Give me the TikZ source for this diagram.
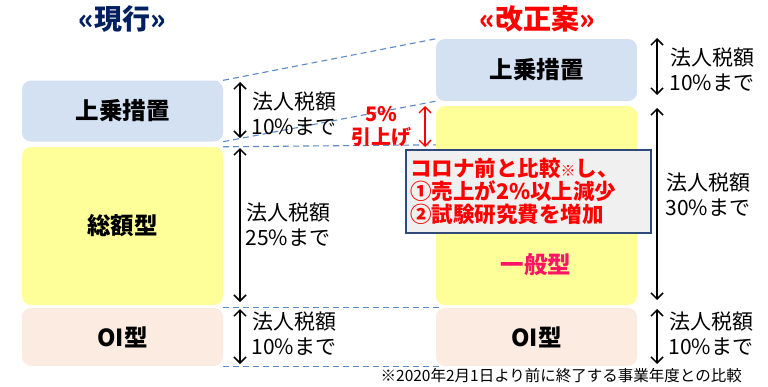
\documentclass[tikz,border=0pt]{standalone}
\usepackage{fontspec}
\setmainfont{Noto Sans CJK JP}
\usetikzlibrary{arrows.meta,calc,backgrounds}
\definecolor{navy}{HTML}{002060}
\definecolor{boxblue}{HTML}{D3E1F3}
\definecolor{boxyellow}{HTML}{FFFF99}
\definecolor{boxpeach}{HTML}{FCEBE1}
\definecolor{dashblue}{HTML}{5B8AC6}
\definecolor{calloutedge}{HTML}{2F4A7A}
\definecolor{calloutfill}{HTML}{F0F0F0}
\definecolor{magred}{HTML}{FF1466}
\tikzset{
  blk/.style={rounded corners=9pt, minimum width=201pt, inner sep=0pt, font=\fontsize{23.5}{26}\selectfont\bfseries},
  guide/.style={dashblue, line width=1.1pt, dash pattern=on 6pt off 4pt},
  span/.style={line width=1.5pt, {Straight Barb[length=6pt,width=12pt]}-{Straight Barb[length=6pt,width=12pt]}},
  lbl/.style={align=center, inner sep=0pt, font=\fontsize{21}{25}\selectfont},
  ttl/.style={inner sep=0pt, font=\fontsize{28}{30}\selectfont\bfseries},
}
\begin{document}
\begin{tikzpicture}[x=1pt,y=-1pt]
\useasboundingbox (0,0) rectangle (768,386);

% titles
\node[ttl, text=navy] (t1) at (122,19) {«現行»};
\node[ttl, text=red] (t2) at (537,19) {«改正案»};

% left boxes
\node[blk, fill=boxblue, minimum height=61pt] (lj) at (122.5,111) {上乗措置};
\node[blk, fill=boxyellow, minimum height=158pt] (ls) at (122.5,226) {総額型};
\node[blk, fill=boxpeach, minimum height=58pt] (lo) at (122.5,337) {OI型};

% right boxes
\node[blk, fill=boxblue, minimum height=62pt] (rj) at (536.5,70) {上乗措置};
\node[blk, fill=boxyellow, minimum height=199pt] (rg) at (536.5,205.5) {};
\node[blk, fill=boxpeach, minimum height=58pt] (ro) at (536.5,337) {OI型};
\node[inner sep=0pt, text=magred, font=\fontsize{23.5}{26}\selectfont\bfseries] (gtxt) at (536,265) {一般型};

% guide lines
\begin{scope}[on background layer]
\draw[guide] (lj.north east) -- (rj.north west);
\draw[guide] (lj.south east) -- (rj.south west);
\draw[guide] (ls.north east) -- ($(rg.north west)+(0,39)$);
\draw[guide] (lo.north east) -- ($(ro.north west)+(7,0)$);
\draw[guide] (lo.south east) -- ($(ro.south west)+(7,0)$);
\end{scope}

% left spans
\coordinate (a1t) at (240,82);  \coordinate (a1b) at (240,138);
\coordinate (a2t) at (240,148); \coordinate (a2b) at (240,302);
\coordinate (a3t) at (240,309); \coordinate (a3b) at (240,364);
\draw[span] (a1t) -- (a1b);
\draw[span] (a2t) -- (a2b);
\draw[span] (a3t) -- (a3b);
\node[lbl] (l1) at (294,114) {法人税額\\10\%まで};
\node[lbl] (l2) at (288,225) {法人税額\\25\%まで};
\node[lbl] (l3) at (294,334) {法人税額\\10\%まで};

% right spans
\coordinate (b1t) at (657,38);  \coordinate (b1b) at (657,95);
\coordinate (b2t) at (657,108); \coordinate (b2b) at (657,300);
\coordinate (b3t) at (657,309); \coordinate (b3b) at (657,364);
\draw[span] (b1t) -- (b1b);
\draw[span] (b2t) -- (b2b);
\draw[span] (b3t) -- (b3b);
\node[lbl] (r1) at (712,70) {法人税額\\10\%まで};
\node[lbl] (r2) at (708,195) {法人税額\\30\%まで};
\node[lbl] (r3) at (711,334) {法人税額\\10\%まで};

% 5% raise
\coordinate (c1t) at (425,106); \coordinate (c1b) at (425,147);
\draw[red, line width=1.3pt, {Straight Barb[length=6pt,width=12pt]}-{Straight Barb[length=6pt,width=12pt]}] (c1t) -- (c1b);
\node[inner sep=0pt, align=center, text=red, font=\fontsize{20}{23}\selectfont\bfseries] (up) at (381,126) {5\%\\引上げ};

% callout
\node[draw=calloutedge, line width=1.4pt, fill=calloutfill, minimum width=245pt, minimum height=83pt,
      text width=237pt, align=left, inner sep=4pt, text=red, font=\fontsize{21.5}{23}\selectfont\bfseries] (co) at (528.5,191.5)
  {コロナ前と比較{\fontsize{15}{15}\selectfont ※}し、\\①売上が2\%以上減少\\②試験研究費を増加};

% footnote
\node[anchor=east, inner sep=0pt, font=\fontsize{15.5}{18}\selectfont] (fn) at (742,376) {※2020年2月1日より前に終了する事業年度との比較};
\end{tikzpicture}
\end{document}
